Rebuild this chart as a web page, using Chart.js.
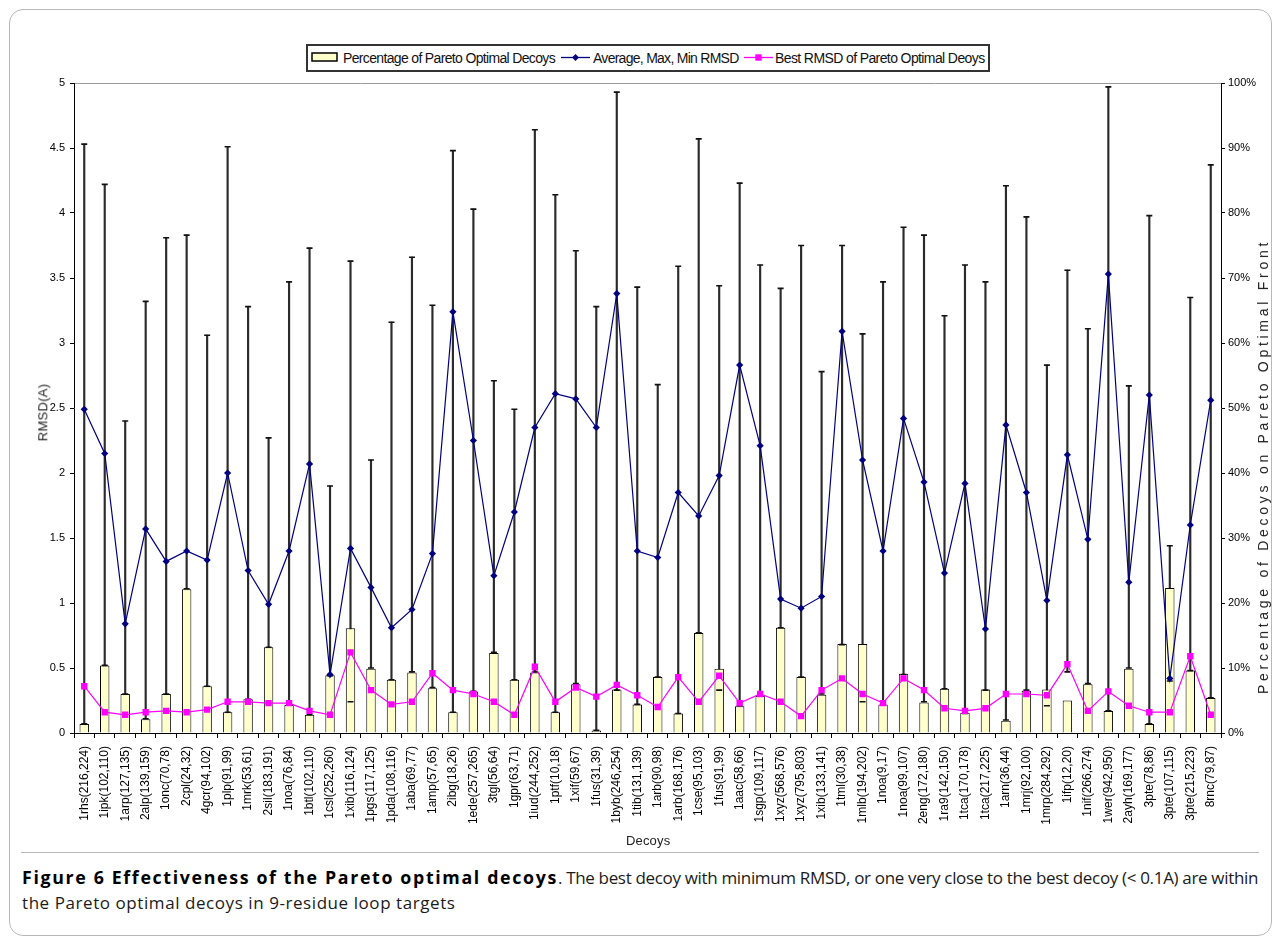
<!DOCTYPE html>
<html>
<head>
<meta charset="utf-8">
<title>Effectiveness of the Pareto optimal decoys</title>
<script src="https://cdn.jsdelivr.net/npm/chart.js@4.4.1/dist/chart.umd.min.js"></script>
<style>
  html, body { margin: 0; padding: 0; background: #fff; }
  body { width: 1281px; height: 944px; position: relative; overflow: hidden;
         font-family: "Liberation Sans", Arial, sans-serif; color: #000; }
  #frame { position: absolute; left: 9px; top: 9px; width: 1263px; height: 927px;
           border: 1px solid #b8b8b8; border-radius: 14px; box-sizing: border-box; }
  #sep { position: absolute; left: 21px; top: 852px; width: 1238px; border-top: 1px solid #b8b8b8; }
  #c { position: absolute; left: 0; top: 0; }
  .txt { position: absolute; white-space: nowrap; display: inline-block; }
  #legendBox { position: absolute; left: 306px; top: 44px; width: 684px; height: 28px;
               border: 2px solid #333; box-sizing: border-box; background: #fff; }
  .leg { font-family: "Liberation Sans Narrow", "Arial Narrow", "Liberation Sans", sans-serif;
         font-size: 14px; line-height: 16px; top: 50px; color: #111; }
  .sym { position: absolute; }
  .axt { font-size: 13px; line-height: 15px; color: #222; }
  #caption { position: absolute; left: 22px; top: 864px; font-family: "Open Sans", "Noto Sans", sans-serif;
             font-size: 17px; color: #1a1a1a; }
  #caption div { white-space: nowrap; line-height: 26px; height: 26px; }
  #caption span { white-space: nowrap; display: inline-block; }
  #caption b { color: #000; }
  #capBold { font-size: 17.8px; }
</style>
</head>
<body>
<div id="frame"></div>
<div id="sep"></div>
<canvas id="c" width="1281" height="852"></canvas>

<div id="legendBox"></div>
<svg class="sym" style="left:311px;top:52px" width="28" height="11">
  <rect x="1" y="1" width="25" height="8" fill="#ffffcc" stroke="#000" stroke-width="1.5"/>
</svg>
<span class="txt leg" id="legA" data-w="212" style="left:343px">Percentage of Pareto Optimal Decoys</span>
<svg class="sym" style="left:561px;top:52px" width="29" height="11">
  <line x1="0" y1="5.5" x2="29" y2="5.5" stroke="#000080" stroke-width="1.3"/>
  <polygon points="14.5,2 18,5.5 14.5,9 11,5.5" fill="#000080"/>
</svg>
<span class="txt leg" id="legB" data-w="146" style="left:593px">Average, Max, Min RMSD</span>
<svg class="sym" style="left:744px;top:52px" width="29" height="11">
  <line x1="0" y1="5.5" x2="29" y2="5.5" stroke="#ff00ff" stroke-width="1.3"/>
  <rect x="11.3" y="2.3" width="6.4" height="6.4" fill="#ff00ff"/>
</svg>
<span class="txt leg" id="legC" data-w="210" style="left:775px">Best RMSD of Pareto Optimal Deoys</span>

<span class="txt axt" id="ytl" data-w="58">RMSD(A)</span>
<span class="txt axt" id="ytr" data-w="455" style="font-size:14px">Percentage of Decoys on Pareto Optimal Front</span>
<span class="txt axt" id="xt" data-w="44">Decoys</span>

<div id="caption">
  <div><span id="capBold" data-w="536"><b>Figure 6 Effectiveness of the Pareto optimal decoys</b></span><span id="capRest" data-w="700">. The best decoy with minimum RMSD, or one very close to the best decoy (&lt; 0.1A) are within</span></div>
  <div><span id="capLine2" data-w="434">the Pareto optimal decoys in 9-residue loop targets</span></div>
</div>

<script>
// Loop targets: PDB id (first residue, last residue)
const decoys = [
  '1rhs(216,224)', '1ipk(102,110)', '1arp(127,135)', '2alp(139,159)', '1onc(70,78)',
  '2cpl(24,32)', '4gcr(94,102)', '1plp(91,99)', '1mrk(53,61)', '2sil(183,191)',
  '1noa(76,84)', '1btl(102,110)', '1csl(252,260)', '1xib(116,124)', '1pgs(117,125)',
  '1pda(108,116)', '1aba(69,77)', '1amp(57,65)', '2ibg(18,26)', '1ede(257,265)',
  '3tgl(56,64)', '1gpr(63,71)', '1iud(244,252)', '1ptf(10,18)', '1xif(59,67)',
  '1fus(31,39)', '1byb(246,254)', '1tib(131,139)', '1arb(90,98)', '1arb(168,176)',
  '1cse(95,103)', '1fus(91,99)', '1aac(58,66)', '1sgp(109,117)', '1xyz(568,576)',
  '1xyz(795,803)', '1xib(133,141)', '1tml(30,38)', '1mlb(194,202)', '1noa(9,17)',
  '1noa(99,107)', '2eng(172,180)', '1ra9(142,150)', '1tca(170,178)', '1tca(217,225)',
  '1arn(36,44)', '1mrj(92,100)', '1mrp(284,292)', '1ifp(12,20)', '1nif(266,274)',
  '1wer(942,950)', '2ayh(169,177)', '3pte(78,86)', '3pte(107,115)', '3pte(215,223)',
  '8rnc(79,87)'
];

// Percentage of decoys on the Pareto optimal front (right axis, %)
const pctPareto = [
  1.4, 10.4, 6.0, 2.1, 6.0, 22.1, 7.2, 3.2, 5.2, 13.2,
  4.3, 2.8, 8.9, 16.1, 9.9, 8.2, 9.3, 6.9, 3.2, 6.4,
  12.3, 8.2, 9.3, 3.2, 7.5, 0.4, 6.7, 4.4, 8.6, 3.0,
  15.4, 9.9, 4.1, 5.7, 16.2, 8.6, 5.9, 13.7, 13.7, 4.4,
  9.1, 4.7, 6.8, 3.1, 6.7, 1.9, 6.5, 6.7, 5.0, 7.5,
  3.4, 9.9, 1.4, 22.3, 9.6, 5.4
];

// Average RMSD of all decoys (left axis, A)
const avgRmsd = [
  2.49, 2.15, 0.84, 1.57, 1.32, 1.40, 1.33, 2.00, 1.25, 0.99,
  1.40, 2.07, 0.45, 1.42, 1.12, 0.81, 0.95, 1.38, 3.24, 2.25,
  1.21, 1.70, 2.35, 2.61, 2.57, 2.35, 3.38, 1.40, 1.35, 1.85,
  1.67, 1.98, 2.83, 2.21, 1.03, 0.96, 1.05, 3.09, 2.10, 1.40,
  2.42, 1.93, 1.23, 1.92, 0.80, 2.37, 1.85, 1.02, 2.14, 1.49,
  3.53, 1.16, 2.60, 0.42, 1.60, 2.56
];

// Maximum RMSD of the decoys
const maxRmsd = [
  4.53, 4.22, 2.40, 3.32, 3.81, 3.83, 3.06, 4.51, 3.28, 2.27,
  3.47, 3.73, 1.90, 3.63, 2.10, 3.16, 3.66, 3.29, 4.48, 4.03,
  2.71, 2.49, 4.64, 4.14, 3.71, 3.28, 4.93, 3.43, 2.68, 3.59,
  4.57, 3.44, 4.23, 3.60, 3.42, 3.75, 2.78, 3.75, 3.07, 3.47,
  3.89, 3.83, 3.21, 3.60, 3.47, 4.21, 3.97, 2.83, 3.56, 3.11,
  4.97, 2.67, 3.98, 1.44, 3.35, 4.37
];

// Lower end of the RMSD range
const minRmsd = [
  0.07, 0.52, 0.30, 0.11, 0.30, 1.11, 0.36, 0.16, 0.26, 0.66,
  0.22, 0.14, 0.44, 0.24, 0.50, 0.41, 0.47, 0.35, 0.16, 0.32,
  0.62, 0.41, 0.47, 0.16, 0.38, 0.02, 0.33, 0.22, 0.43, 0.15,
  0.77, 0.33, 0.21, 0.29, 0.81, 0.43, 0.30, 0.68, 0.24, 0.22,
  0.45, 0.24, 0.34, 0.15, 0.33, 0.10, 0.33, 0.21, 0.47, 0.38,
  0.17, 0.50, 0.07, 0.40, 0.48, 0.27
];

// Best RMSD among the Pareto optimal decoys
const bestParetoRmsd = [
  0.36, 0.16, 0.14, 0.16, 0.17, 0.16, 0.18, 0.24, 0.24, 0.23,
  0.23, 0.17, 0.14, 0.62, 0.33, 0.22, 0.24, 0.46, 0.33, 0.30,
  0.24, 0.14, 0.51, 0.24, 0.35, 0.28, 0.37, 0.29, 0.20, 0.43,
  0.24, 0.44, 0.23, 0.30, 0.24, 0.13, 0.33, 0.42, 0.30, 0.23,
  0.42, 0.33, 0.19, 0.17, 0.19, 0.30, 0.30, 0.29, 0.53, 0.17,
  0.32, 0.21, 0.16, 0.16, 0.59, 0.14
];

// Axis ranges and tick steps
const rmsdAxis = { min: 0, max: 5, step: 0.5 };
const pctAxis = { min: 0, max: 100, step: 10 };

const tickFont = { family: 'Liberation Sans', size: 11 };

new Chart(document.getElementById('c'), {
  data: {
    labels: decoys,
    datasets: [
      {
        type: 'line', label: 'Average, Max, Min RMSD', data: avgRmsd, yAxisID: 'y',
        borderColor: '#000080', borderWidth: 1.2, tension: 0,
        pointStyle: 'rectRot', pointRadius: 3.6, pointBackgroundColor: '#000080',
        pointBorderColor: '#000080', pointBorderWidth: 0, order: 0
      },
      {
        type: 'line', label: 'Best RMSD of Pareto Optimal Deoys', data: bestParetoRmsd, yAxisID: 'y',
        borderColor: '#ff00ff', borderWidth: 1.2, tension: 0,
        pointStyle: 'rect', pointRadius: 4.5, pointBackgroundColor: '#ff00ff',
        pointBorderColor: '#ff00ff', pointBorderWidth: 0, order: 1
      },
      {
        type: 'line', label: 'Max RMSD', data: maxRmsd, yAxisID: 'y', showLine: false,
        pointStyle: 'line', pointRadius: 3, pointBorderColor: '#111', pointBorderWidth: 1.6, order: 2
      },
      {
        type: 'line', label: 'Min RMSD', data: minRmsd, yAxisID: 'y', showLine: false,
        pointStyle: 'line', pointRadius: 3, pointBorderColor: '#111', pointBorderWidth: 1.6, order: 2
      },
      {
        type: 'bar', label: 'Percentage of Pareto Optimal Decoys', data: pctPareto, yAxisID: 'y2',
        backgroundColor: '#ffffcc', borderColor: '#000', borderWidth: 1,
        barPercentage: 0.46, categoryPercentage: 1, grouped: false, order: 3
      },
      {
        type: 'bar', label: 'RMSD range', yAxisID: 'y',
        data: decoys.map((_, i) => [minRmsd[i], maxRmsd[i]]),
        backgroundColor: '#2b2b2b', borderWidth: 0, barThickness: 1.5, grouped: false, order: 4
      }
    ]
  },
  options: {
    responsive: false,
    animation: false,
    devicePixelRatio: 1,
    layout: { padding: { left: 35, right: 10, top: 83, bottom: 0 } },
    plugins: { legend: { display: false }, tooltip: { enabled: false } },
    scales: {
      x: {
        offset: true,
        grid: { offset: true, drawOnChartArea: false, drawTicks: true, tickLength: 5, tickColor: '#000' },
        border: { color: '#000', width: 1 },
        ticks: { autoSkip: false, minRotation: 90, maxRotation: 90, padding: 8, color: '#000',
                 font: { family: 'Liberation Sans', size: 12 } },
        afterFit(s) { s.height = 119; }
      },
      y: {
        position: 'left', min: rmsdAxis.min, max: rmsdAxis.max,
        ticks: { stepSize: rmsdAxis.step, color: '#000', padding: 5, font: tickFont,
                 callback: v => String(+v.toFixed(1)) },
        grid: {
          drawOnChartArea: true, tickLength: 4, tickColor: '#000',
          color: ctx => (ctx.tick && ctx.tick.value === rmsdAxis.max) ? '#9a9a9a' : 'rgba(0,0,0,0)'
        },
        border: { color: '#000', width: 1 },
        afterFit(s) { s.width = 39; }
      },
      y2: {
        position: 'right', min: pctAxis.min, max: pctAxis.max,
        ticks: { stepSize: pctAxis.step, color: '#000', padding: 3, font: tickFont, callback: v => v + '%' },
        grid: { drawOnChartArea: false, tickLength: 4, tickColor: '#000' },
        border: { color: '#000', width: 1 },
        afterFit(s) { s.width = 50; }
      }
    }
  }
});

// Spread or tighten a text run to a given width via letter-spacing
function spreadTo(el, target) {
  const n = el.textContent.length;
  el.style.letterSpacing = '0px';
  const w = el.offsetWidth;
  el.style.letterSpacing = ((target - w) / n) + 'px';
}

['legA', 'legB', 'legC', 'ytl', 'ytr', 'xt', 'capBold', 'capRest', 'capLine2'].forEach(id => {
  const el = document.getElementById(id);
  spreadTo(el, +el.dataset.w);
});

// Place axis titles centred on given points
function centre(el, cx, cy, rot) {
  el.style.left = (cx - el.offsetWidth / 2) + 'px';
  el.style.top = (cy - el.offsetHeight / 2) + 'px';
  if (rot) el.style.transform = 'rotate(' + rot + 'deg)';
}
centre(document.getElementById('ytl'), 43, 412, -90);
centre(document.getElementById('ytr'), 1263, 466, -90);
centre(document.getElementById('xt'), 648, 840, 0);
</script>
</body>
</html>
